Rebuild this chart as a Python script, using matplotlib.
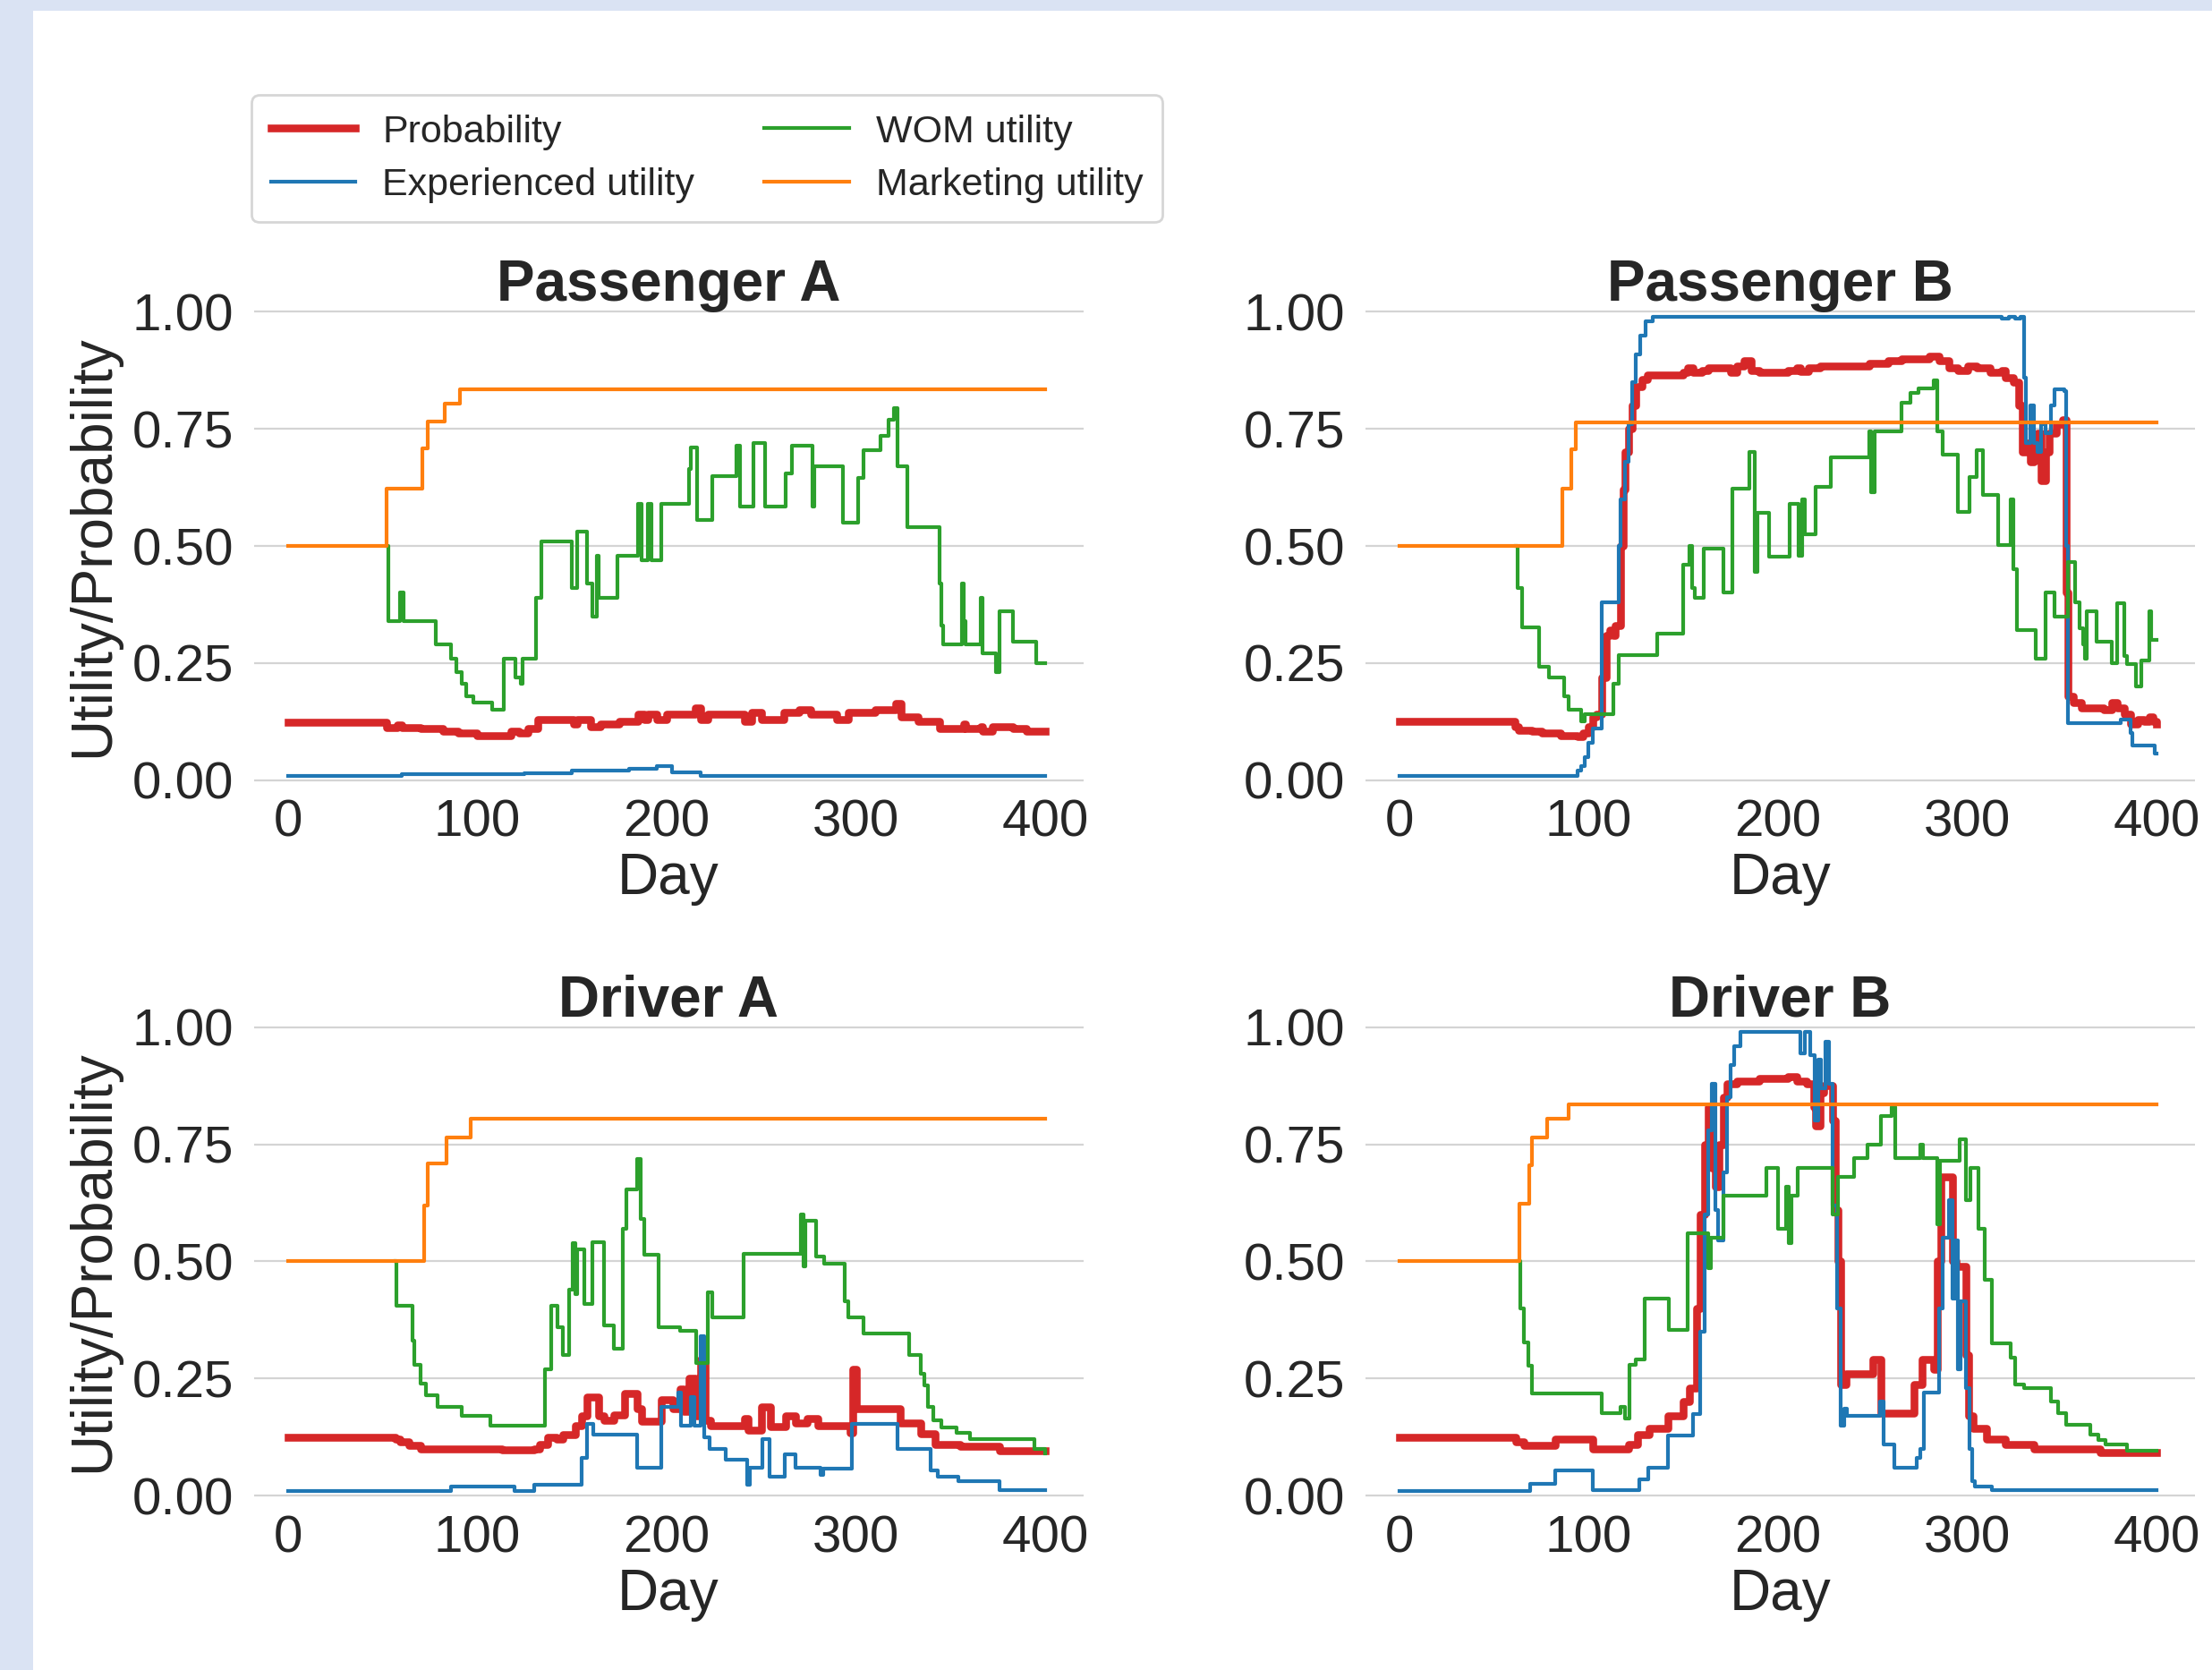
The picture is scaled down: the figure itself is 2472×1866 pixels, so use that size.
import matplotlib.pyplot as plt
from matplotlib.patches import Rectangle
from matplotlib.lines import Line2D

plt.rcParams['font.family'] = ['Liberation Sans', 'DejaVu Sans']

# ---- Passenger A ----
pa_prob_day = [0, 52, 58, 60, 70, 82, 90, 100, 118, 122, 127, 132, 151, 153, 160, 165, 175, 185, 188, 190,
               195, 200, 215, 218, 222, 241, 245, 250, 262, 270, 276, 290, 296, 310, 321, 324, 333, 344,
               357, 358, 366, 367, 372, 383, 390, 400]
pa_prob = [0.124, 0.112, 0.118, 0.112, 0.11, 0.105, 0.10, 0.095, 0.105, 0.10, 0.11, 0.13, 0.12, 0.13,
           0.115, 0.12, 0.125, 0.14, 0.13, 0.14, 0.13, 0.14, 0.155, 0.13, 0.14, 0.125, 0.145, 0.13, 0.145,
           0.15, 0.14, 0.13, 0.145, 0.15, 0.163, 0.135, 0.125, 0.11, 0.12, 0.11, 0.115, 0.105, 0.115,
           0.11, 0.105, 0.105]
pa_exp_day = [0, 60, 125, 150, 180, 195, 203, 218, 400]
pa_exp = [0.01, 0.012, 0.015, 0.02, 0.025, 0.03, 0.016, 0.01, 0.01]
pa_wom_day = [52, 53, 59, 61, 78, 86, 89, 92, 94, 98, 108, 114, 120, 123, 124, 131, 134, 150, 153, 158,
              161, 163, 164, 174, 185, 187, 190, 192, 197, 212, 213, 216, 224, 237, 239, 246, 252, 263,
              266, 277, 278, 293, 301, 304, 313, 317, 320, 322, 327, 344, 345, 346, 356, 357, 358, 366,
              367, 374, 376, 383, 395, 400]
pa_wom = [0.50, 0.34, 0.40, 0.34, 0.29, 0.26, 0.23, 0.205, 0.18, 0.165, 0.15, 0.26, 0.22, 0.205, 0.26,
          0.39, 0.51, 0.41, 0.53, 0.42, 0.35, 0.48, 0.39, 0.48, 0.59, 0.47, 0.59, 0.47, 0.59, 0.665, 0.71,
          0.555, 0.65, 0.715, 0.585, 0.72, 0.585, 0.655, 0.715, 0.585, 0.67, 0.55, 0.645, 0.705, 0.735,
          0.77, 0.795, 0.67, 0.54, 0.42, 0.33, 0.29, 0.42, 0.34, 0.29, 0.39, 0.27, 0.23, 0.36, 0.295,
          0.25, 0.25]
pa_mkt_day = [0, 52, 71, 74, 83, 91, 400]
pa_mkt = [0.5, 0.623, 0.708, 0.765, 0.804, 0.834, 0.834]

# ---- Passenger B ----
pb_prob_day = [0, 61, 63, 70, 75, 85, 94, 97, 100, 102, 104, 107, 109, 111, 113, 114, 116, 117, 118, 119,
               121, 123, 125, 128, 131, 150, 152, 155, 160, 163, 175, 178, 182, 186, 190, 205, 210, 212,
               216, 222, 240, 248, 258, 265, 280, 285, 290, 295, 300, 305, 312, 318, 320, 324, 327, 329,
               331, 333, 335, 337, 339, 341, 343, 347, 350, 352, 353, 356, 360, 372, 376, 379, 383, 386,
               390, 393, 396, 398, 400]
pb_prob = [0.125, 0.115, 0.107, 0.105, 0.10, 0.095, 0.093, 0.10, 0.115, 0.135, 0.14, 0.22, 0.31, 0.32,
           0.31, 0.33, 0.33, 0.5, 0.62, 0.70, 0.75, 0.80, 0.84, 0.855, 0.865, 0.87, 0.88, 0.87, 0.875, 0.88,
           0.87, 0.885, 0.895, 0.875, 0.87, 0.875, 0.88, 0.872, 0.88, 0.885, 0.885, 0.89, 0.895, 0.90,
           0.905, 0.895, 0.88, 0.875, 0.885, 0.88, 0.87, 0.875, 0.86, 0.85, 0.80, 0.70, 0.72, 0.68, 0.72,
           0.74, 0.64, 0.70, 0.74, 0.76, 0.77, 0.40, 0.18, 0.165, 0.155, 0.15, 0.165, 0.155, 0.14, 0.12,
           0.13, 0.125, 0.135, 0.125, 0.12]
pb_exp_day = [0, 94, 96, 98, 100, 102, 107, 116, 117, 119, 121, 123, 125, 127, 130, 134, 318, 322, 325,
              328, 330, 331, 333, 335, 337, 339, 341, 344, 346, 351, 352, 353, 380, 381, 386, 387, 398,
              399, 400]
pb_exp = [0.01, 0.02, 0.03, 0.05, 0.08, 0.11, 0.38, 0.5, 0.6, 0.68, 0.76, 0.85, 0.91, 0.95, 0.98, 0.99,
          0.985, 0.99, 0.985, 0.99, 0.86, 0.72, 0.80, 0.72, 0.70, 0.76, 0.74, 0.80, 0.835, 0.83, 0.5,
          0.122, 0.122, 0.13, 0.10, 0.075, 0.075, 0.056, 0.056]
pb_wom_day = [61.5, 62.5, 65, 74, 79, 87, 89.5, 96, 98, 113, 116, 136, 150, 153, 154.5, 156, 160.5, 171,
              176, 185, 187.5, 189, 195, 206, 211, 212.5, 214, 220, 228, 248, 249, 251, 265, 270, 274,
              282, 284, 287, 295, 301, 305, 308, 316, 323, 324, 326, 336, 341, 346, 353, 357, 359, 361,
              362, 363, 368, 376, 379, 383, 384, 389, 392, 396, 397, 400]
pb_wom = [0.5, 0.41, 0.327, 0.243, 0.22, 0.18, 0.15, 0.125, 0.141, 0.205, 0.267, 0.313, 0.46, 0.5, 0.41,
          0.39, 0.495, 0.40, 0.623, 0.70, 0.444, 0.57, 0.478, 0.59, 0.48, 0.60, 0.525, 0.626, 0.69, 0.744,
          0.614, 0.744, 0.806, 0.827, 0.837, 0.853, 0.744, 0.695, 0.573, 0.648, 0.705, 0.61, 0.503, 0.60,
          0.45, 0.32, 0.26, 0.40, 0.35, 0.465, 0.38, 0.325, 0.29, 0.26, 0.36, 0.295, 0.25, 0.378, 0.265,
          0.248, 0.20, 0.256, 0.36, 0.30, 0.30]
pb_mkt_day = [0, 86, 91, 93, 400]
pb_mkt = [0.5, 0.623, 0.706, 0.763, 0.763]

# ---- Driver A ----
da_prob_day = [0, 57, 59, 64, 70, 113, 125, 130, 133, 137, 142, 145, 152, 155, 158, 164, 167, 172, 178,
               184.5, 187, 197, 203.5, 207, 209, 212, 215, 218, 220.5, 223, 241, 243, 250, 255, 263, 268,
               274, 280, 297, 298.5, 300, 323.5, 334, 342, 355, 376, 400]
da_prob = [0.125, 0.12, 0.115, 0.107, 0.10, 0.097, 0.097, 0.10, 0.11, 0.125, 0.12, 0.13, 0.15, 0.17,
           0.21, 0.17, 0.16, 0.173, 0.218, 0.185, 0.158, 0.205, 0.185, 0.227, 0.18, 0.25, 0.17, 0.29,
           0.16, 0.15, 0.165, 0.14, 0.19, 0.148, 0.17, 0.155, 0.165, 0.15, 0.135, 0.27, 0.185, 0.155,
           0.133, 0.11, 0.105, 0.095, 0.095]
da_exp_day = [0, 86, 119.5, 130, 155, 158, 161.5, 184.5, 197, 206, 207.5, 213, 214.5, 218, 220, 222.5,
              231, 242.5, 244, 250.5, 254.5, 262.5, 268, 281.5, 282.5, 298, 322, 339.5, 343, 354, 376, 400]
da_exp = [0.01, 0.02, 0.01, 0.024, 0.08, 0.154, 0.13, 0.06, 0.19, 0.22, 0.15, 0.21, 0.15, 0.34, 0.125,
          0.10, 0.077, 0.024, 0.06, 0.12, 0.04, 0.088, 0.06, 0.045, 0.058, 0.154, 0.10, 0.054, 0.04, 0.03,
          0.012, 0.012]
da_wom_day = [56.8, 57.5, 66, 67, 70, 73, 79, 92, 107, 136, 139, 142.5, 145, 148.5, 150.5, 152, 153, 156.5,
              161, 167, 172, 177, 179, 184.5, 186.5, 188, 196, 207, 215.5, 222, 224, 240.5, 271, 272.5,
              273.5, 279, 283, 294, 296, 304, 328, 334, 336, 338, 341, 345, 353, 360, 394, 400]
da_wom = [0.5, 0.405, 0.33, 0.28, 0.24, 0.215, 0.19, 0.17, 0.15, 0.27, 0.405, 0.36, 0.30, 0.44, 0.54,
          0.43, 0.526, 0.41, 0.542, 0.363, 0.313, 0.57, 0.654, 0.718, 0.59, 0.514, 0.36, 0.351, 0.284,
          0.434, 0.38, 0.516, 0.60, 0.49, 0.586, 0.51, 0.495, 0.414, 0.38, 0.346, 0.30, 0.26, 0.235, 0.19,
          0.16, 0.145, 0.134, 0.12, 0.10, 0.09]
da_mkt_day = [0, 72, 74, 84, 96.5, 400]
da_mkt = [0.5, 0.62, 0.71, 0.765, 0.805, 0.805]

# ---- Driver B ----
db_prob_day = [0, 61.5, 66, 82.5, 102, 121, 126, 132, 142, 150, 153, 157, 159, 161, 163, 165, 167, 169,
               171, 173, 178, 190, 205, 210, 215, 219, 220, 222, 224, 229, 230, 231.5, 233, 236, 250,
               254.5, 272, 276, 282, 284, 286, 292, 294, 299, 300.5, 303, 310, 320, 335, 370, 400]
db_prob = [0.125, 0.115, 0.108, 0.12, 0.10, 0.11, 0.13, 0.143, 0.17, 0.20, 0.23, 0.40, 0.60, 0.75, 0.83,
           0.70, 0.66, 0.75, 0.85, 0.88, 0.885, 0.89, 0.895, 0.885, 0.88, 0.83, 0.79, 0.86, 0.875, 0.80,
           0.61, 0.50, 0.237, 0.26, 0.29, 0.177, 0.237, 0.29, 0.27, 0.50, 0.68, 0.50, 0.49, 0.30, 0.17,
           0.143, 0.12, 0.11, 0.10, 0.092, 0.092]
db_exp_day = [0, 69, 82.5, 102, 126.5, 131.5, 142, 155, 159, 161, 163, 165, 167, 168.5, 171, 173, 175,
              177, 180, 212, 214, 217, 219.5, 221, 222.5, 225, 227, 229, 231, 233, 235, 236.5, 254, 255.5,
              261.5, 273, 275, 277, 285, 287, 290, 292, 293.5, 295, 296.5, 299, 301, 302.5, 304, 313, 400]
db_exp = [0.01, 0.026, 0.054, 0.011, 0.035, 0.06, 0.128, 0.174, 0.35, 0.60, 0.78, 0.88, 0.61, 0.545,
          0.69, 0.85, 0.92, 0.96, 0.99, 0.945, 0.99, 0.94, 0.80, 0.93, 0.87, 0.97, 0.88, 0.62, 0.40, 0.15,
          0.186, 0.17, 0.20, 0.11, 0.06, 0.08, 0.10, 0.22, 0.40, 0.55, 0.63, 0.42, 0.545, 0.27, 0.415,
          0.23, 0.10, 0.03, 0.02, 0.011, 0.011]
db_wom_day = [62.5, 64, 66, 68, 70, 107, 117, 119, 121.5, 125, 129.5, 142.5, 152, 163, 164.5, 171, 194,
              200, 204, 205.5, 207, 210.5, 229, 231.5, 240, 247, 254.5, 260, 262, 275, 276.5, 284, 285.5,
              296, 299, 301.5, 306, 309, 313, 323, 325, 330, 344, 348, 352, 365, 369, 373, 384, 400]
db_wom = [0.5, 0.4, 0.327, 0.277, 0.218, 0.177, 0.19, 0.165, 0.28, 0.29, 0.42, 0.354, 0.56, 0.485, 0.55,
          0.64, 0.70, 0.57, 0.66, 0.54, 0.64, 0.70, 0.60, 0.68, 0.72, 0.75, 0.81, 0.83, 0.72, 0.75, 0.72,
          0.58, 0.714, 0.76, 0.63, 0.70, 0.57, 0.46, 0.325, 0.295, 0.237, 0.23, 0.20, 0.177, 0.151, 0.13,
          0.118, 0.11, 0.095, 0.095]
db_mkt_day = [0, 63.5, 68.5, 70, 78, 89.5, 400]
db_mkt = [0.5, 0.623, 0.706, 0.765, 0.805, 0.835, 0.835]

titles = ['Passenger A', 'Passenger B', 'Driver A', 'Driver B']
series = [
    (pa_prob_day, pa_prob, pa_exp_day, pa_exp, pa_wom_day, pa_wom, pa_mkt_day, pa_mkt),
    (pb_prob_day, pb_prob, pb_exp_day, pb_exp, pb_wom_day, pb_wom, pb_mkt_day, pb_mkt),
    (da_prob_day, da_prob, da_exp_day, da_exp, da_wom_day, da_wom, da_mkt_day, da_mkt),
    (db_prob_day, db_prob, db_exp_day, db_exp, db_wom_day, db_wom, db_mkt_day, db_mkt),
]
rects = [[0.1147, 0.5216, 0.375, 0.3029], [0.6172, 0.5216, 0.375, 0.3029],
         [0.1147, 0.0932, 0.375, 0.3029], [0.6172, 0.0932, 0.375, 0.3029]]

c_prob, c_exp, c_wom, c_mkt = '#d62728', '#1f77b4', '#2ca02c', '#ff7f0e'
lw_prob, lw_thin = 3.1, 1.5

fig = plt.figure(figsize=(12.36, 9.33), dpi=200, facecolor='white')
# pale frame along the left and top edges
fig.patches.append(Rectangle((0, 0), 37 / 2472, 1, transform=fig.transFigure,
                             facecolor='#dae3f3', edgecolor='none', zorder=0))
fig.patches.append(Rectangle((0, 1 - 12 / 1866), 1, 12 / 1866, transform=fig.transFigure,
                             facecolor='#dae3f3', edgecolor='none', zorder=0))

for i, (title, s, r) in enumerate(zip(titles, series, rects)):
    ax = fig.add_axes(r)
    ax.set_facecolor('none')
    ax.plot(s[0], s[1], color=c_prob, lw=lw_prob, drawstyle='steps-post', zorder=3)
    ax.plot(s[2], s[3], color=c_exp, lw=lw_thin, drawstyle='steps-post', zorder=4)
    ax.plot(s[4], s[5], color=c_wom, lw=lw_thin, drawstyle='steps-post', zorder=4)
    ax.plot(s[6], s[7], color=c_mkt, lw=lw_thin, drawstyle='steps-post', zorder=5)
    ax.set_xlim(-18, 420)
    ax.set_ylim(-0.04, 1.04)
    ax.set_yticks([0, 0.25, 0.5, 0.75, 1.0])
    ax.set_yticklabels(['0.00', '0.25', '0.50', '0.75', '1.00'])
    ax.set_xticks([0, 100, 200, 300, 400])
    ax.grid(axis='y', color='#d4d4d4', lw=0.8)
    ax.set_axisbelow(True)
    for sp in ax.spines.values():
        sp.set_visible(False)
    ax.tick_params(length=0, labelsize=21, colors='#262626')
    ax.tick_params(axis='y', pad=8)
    ax.tick_params(axis='x', pad=0)
    ax.set_xlabel('Day', fontsize=23, color='#262626', labelpad=2)
    if i % 2 == 0:
        ax.set_ylabel('Utility/Probability', fontsize=23, color='#262626')
        ax.yaxis.set_label_coords(-0.161, 0.5)
    ax.text(0.5, 1.023, title, transform=ax.get_yaxis_transform(), ha='center', va='baseline',
            fontsize=23, fontweight='bold', color='#262626')

handles = [Line2D([], [], color=c_prob, lw=lw_prob), Line2D([], [], color=c_exp, lw=lw_thin),
           Line2D([], [], color=c_wom, lw=lw_thin), Line2D([], [], color=c_mkt, lw=lw_thin)]
labels = ['Probability', 'Experienced utility', 'WOM utility', 'Marketing utility']
leg = fig.legend(handles, labels, loc='upper left', bbox_to_anchor=(281 / 2472, 1 - 106 / 1866),
                 ncol=2, fontsize=15.5, frameon=True, fancybox=True, handlelength=2.2,
                 handletextpad=0.7, columnspacing=1.8, labelspacing=0.45, borderpad=0.5,
                 borderaxespad=0)
leg.get_frame().set_edgecolor('#cccccc')
for t in leg.get_texts():
    t.set_color('#262626')

fig.savefig('out.png', dpi=200, facecolor=fig.get_facecolor())
